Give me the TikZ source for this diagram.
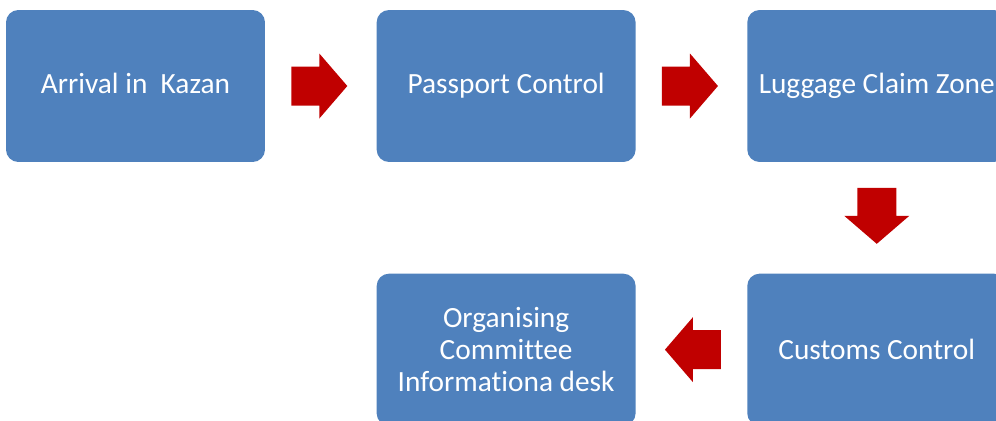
\documentclass[tikz,border=0pt]{standalone}
\usepackage{fontspec}
\setmainfont{Carlito}[Ligatures={NoCommon}]
\usetikzlibrary{positioning,calc}

\definecolor{boxblue}{HTML}{4F81BD}
\definecolor{arrowred}{HTML}{C00000}

\tikzset{
    stage/.style={rectangle, rounded corners=7pt, fill=boxblue, text=white,
        minimum width=5.18cm, minimum height=3.04cm, inner sep=0pt,
        align=center, font=\fontsize{16.7}{18.1}\selectfont},
    blockarrow/.pic={
        \fill[arrowred] (-28,-19.5) -- (0,-19.5) -- (0,-32.5) -- (28,0)
            -- (0,32.5) -- (0,19.5) -- (-28,19.5) -- cycle;
    }
}

\begin{document}
\begin{tikzpicture}[x=0.02cm, y=-0.02cm, node distance=2.22cm]
    \useasboundingbox (0,0) rectangle (996,420);
    \clip (0,0) rectangle (996,420);

    \node[stage, text depth=3.5pt] (arrival) at (135.5,86) {Arrival in\ \ Kazan};
    \node[stage, right=of arrival] (passport) {Passport Control};
    \node[stage, right=of passport] (luggage) {Luggage Claim Zone};
    \node[stage, below=of luggage] (customs) {Customs Control};
    \node[stage, left=of customs] (desk) {Organising\\Committee\\Informationa desk};

    % red block arrows between the stages
    \pic at ($(arrival.east)!0.5!(passport.west)+(-1.5,0)$) {blockarrow};
    \pic at ($(passport.east)!0.5!(luggage.west)+(-1.5,0)$) {blockarrow};
    \pic[rotate=-90] at ($(luggage.south)!0.5!(customs.north)+(0,-2)$) {blockarrow};
    \pic[rotate=180] at ($(customs.west)!0.5!(desk.east)+(1.5,0)$) {blockarrow};
\end{tikzpicture}
\end{document}
